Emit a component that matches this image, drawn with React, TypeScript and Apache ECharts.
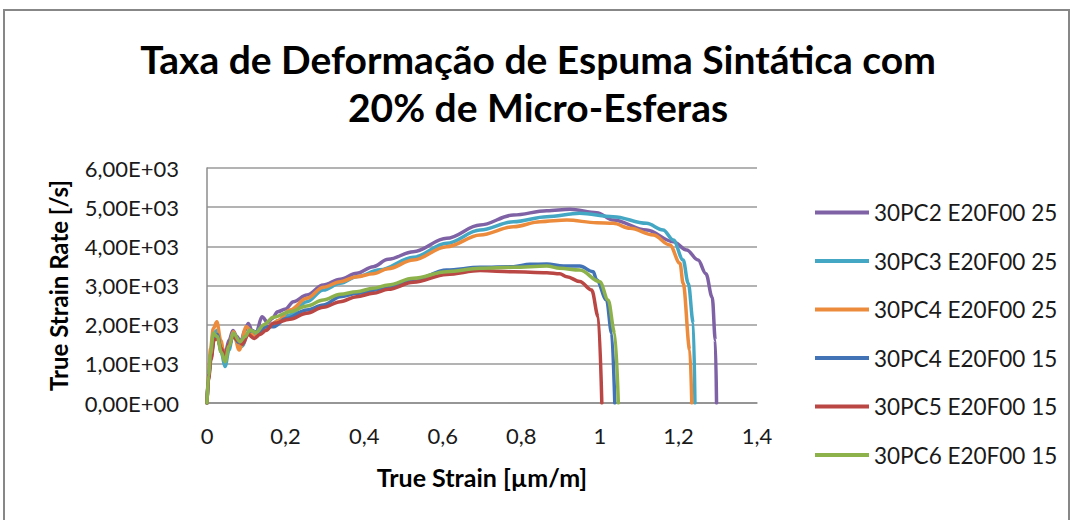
import React, { useEffect, useRef } from "react";
import * as echarts from "echarts";

// ---- Data ----
const seriesNames = [
  "30PC2 E20F00 25",
  "30PC3 E20F00 25",
  "30PC4 E20F00 25",
  "30PC4 E20F00 15",
  "30PC5 E20F00 15",
  "30PC6 E20F00 15",
];

const pc2_25_x = [0, 0.004, 0.01, 0.018, 0.026, 0.036, 0.046, 0.056, 0.066, 0.076, 0.086, 0.096, 0.105, 0.115, 0.125, 0.14, 0.155, 0.165, 0.18, 0.2, 0.22, 0.254, 0.296, 0.339, 0.381, 0.423, 0.461, 0.525, 0.61, 0.695, 0.78, 0.865, 0.924, 0.992, 1.034, 1.119, 1.187, 1.221, 1.25, 1.27, 1.286, 1.294, 1.297];
const pc2_25_y = [0, 700, 1200, 1650, 1750, 1450, 1250, 1600, 1850, 1700, 1550, 1850, 2030, 1850, 1800, 2200, 2050, 2150, 2330, 2400, 2586, 2757, 3013, 3158, 3311, 3480, 3668, 3863, 4205, 4544, 4800, 4910, 4945, 4859, 4672, 4417, 4118, 3906, 3650, 3300, 2700, 1600, 0];

const pc3_25_x = [0, 0.004, 0.01, 0.018, 0.026, 0.036, 0.046, 0.056, 0.066, 0.078, 0.09, 0.105, 0.12, 0.14, 0.16, 0.18, 0.211, 0.254, 0.296, 0.339, 0.381, 0.44, 0.525, 0.61, 0.695, 0.78, 0.865, 0.949, 1.034, 1.119, 1.161, 1.187, 1.212, 1.225, 1.238, 1.242];
const pc3_25_y = [0, 750, 1300, 1800, 1850, 1300, 930, 1350, 1750, 1550, 1450, 1800, 1750, 1950, 1950, 2100, 2250, 2586, 2885, 3056, 3225, 3400, 3720, 4077, 4417, 4629, 4757, 4843, 4757, 4587, 4417, 4161, 3651, 3056, 2035, 0];

const pc4_25_x = [0, 0.004, 0.009, 0.016, 0.025, 0.035, 0.046, 0.056, 0.067, 0.082, 0.1, 0.122, 0.14, 0.16, 0.18, 0.211, 0.254, 0.296, 0.339, 0.381, 0.423, 0.461, 0.525, 0.61, 0.695, 0.78, 0.848, 0.916, 0.992, 1.034, 1.077, 1.136, 1.178, 1.204, 1.212, 1.229, 1.234];
const pc4_25_y = [0, 800, 1400, 1900, 2075, 1600, 1080, 1450, 1820, 1353, 1950, 1690, 1900, 1950, 2100, 2374, 2672, 2953, 3098, 3225, 3300, 3430, 3651, 3991, 4289, 4501, 4629, 4672, 4603, 4587, 4459, 4289, 4034, 3566, 3056, 1353, 0];

const pc4_15_x = [0, 0.004, 0.01, 0.018, 0.026, 0.036, 0.046, 0.056, 0.067, 0.08, 0.095, 0.11, 0.13, 0.15, 0.17, 0.2, 0.254, 0.296, 0.339, 0.381, 0.44, 0.525, 0.61, 0.695, 0.78, 0.822, 0.865, 0.907, 0.949, 0.983, 0.992, 1.017, 1.03, 1.038];
const pc4_15_y = [0, 650, 1150, 1650, 1750, 1350, 1100, 1450, 1750, 1550, 1650, 1850, 1800, 1950, 1950, 2150, 2374, 2502, 2714, 2800, 2900, 3140, 3395, 3464, 3480, 3540, 3549, 3498, 3498, 3352, 3140, 2630, 1779, 0];

const pc5_15_x = [0, 0.004, 0.01, 0.018, 0.026, 0.036, 0.046, 0.056, 0.066, 0.078, 0.09, 0.105, 0.12, 0.135, 0.15, 0.169, 0.211, 0.254, 0.296, 0.339, 0.381, 0.423, 0.461, 0.525, 0.61, 0.695, 0.78, 0.865, 0.898, 0.916, 0.949, 0.979, 0.996, 1.005];
const pc5_15_y = [0, 600, 1100, 1600, 1650, 1400, 1200, 1500, 1700, 1600, 1500, 1750, 1650, 1750, 1850, 2035, 2137, 2290, 2443, 2586, 2714, 2800, 2902, 3080, 3280, 3380, 3352, 3327, 3300, 3225, 3100, 2885, 2203, 0];

const pc6_15_x = [0, 0.004, 0.009, 0.016, 0.026, 0.036, 0.046, 0.056, 0.067, 0.084, 0.097, 0.109, 0.125, 0.145, 0.169, 0.211, 0.254, 0.296, 0.339, 0.381, 0.423, 0.461, 0.525, 0.61, 0.695, 0.78, 0.865, 0.898, 0.949, 1.0, 1.021, 1.038, 1.047];
const pc6_15_y = [0, 700, 1250, 1779, 1700, 1300, 1055, 1450, 1779, 1565, 1700, 1864, 1800, 2000, 2188, 2330, 2476, 2630, 2775, 2842, 2928, 3013, 3183, 3352, 3439, 3464, 3498, 3439, 3396, 3097, 2630, 1779, 0];

const seriesX = [pc2_25_x, pc3_25_x, pc4_25_x, pc4_15_x, pc5_15_x, pc6_15_x];
const seriesY = [pc2_25_y, pc3_25_y, pc4_25_y, pc4_15_y, pc5_15_y, pc6_15_y];
const seriesColors = ["#7E62A5", "#44A7C4", "#EC8B3C", "#4173B6", "#BA4744", "#8DB24C"];

const titleText = "Taxa de Deformação de Espuma Sintática com\n20% de Micro-Esferas";
const xAxisName = "True Strain [µm/m]";
const yAxisName = "True Strain Rate [/s]";

const FONT = "Lato, 'Open Sans', sans-serif";

function fmtY(v: number): string {
  if (v === 0) return "0,00E+00";
  const s = v.toExponential(2);
  const [m, e] = s.split("e");
  const sign = e[0] === "-" ? "-" : "+";
  const ex = Math.abs(parseInt(e, 10)).toString().padStart(2, "0");
  return m.replace(".", ",") + "E" + sign + ex;
}

function fmtX(v: number): string {
  const r = Math.round(v * 10) / 10;
  return String(r).replace(".", ",");
}

export default function App() {
  const ref = useRef<HTMLDivElement>(null);
  useEffect(() => {
    document.body.style.margin = "0";
    if (!ref.current) return;
    const chart = echarts.init(ref.current, undefined, { renderer: "svg" });
    const series = seriesNames.map((name, i) => ({
      name,
      type: "line",
      data: seriesX[i].map((x, j) => [x, seriesY[i][j]]),
      showSymbol: false,
      symbol: "none",
      smooth: 0.35,
      smoothMonotone: "x",
      lineStyle: { width: 3.5, color: seriesColors[i], cap: "round", join: "round" },
      itemStyle: { color: seriesColors[i] },
      emphasis: { disabled: true },
    }));
    chart.setOption({
      animation: false,
      backgroundColor: "#ffffff",
      textStyle: { fontFamily: FONT },
      title: {
        text: titleText,
        left: "center",
        top: 30,
        textStyle: {
          fontFamily: FONT,
          fontSize: 39,
          fontWeight: "bold",
          color: "#000000",
          lineHeight: 48,
        },
      },
      graphic: [
        {
          type: "rect",
          shape: { x: 4, y: 10, width: 1065, height: 530 },
          style: { fill: "none", stroke: "#878787", lineWidth: 2 },
          silent: true,
          z: -1,
        },
      ],
      legend: {
        orient: "vertical",
        left: 810,
        top: 196,
        itemWidth: 54,
        itemHeight: 4,
        itemGap: 25.5,
        icon: "rect",
        textStyle: { fontFamily: FONT, fontSize: 22.5, color: "#1a1a1a", lineHeight: 22 },
        data: seriesNames,
      },
      grid: { left: 207, right: 319, top: 168, bottom: 117, containLabel: false },
      xAxis: {
        type: "value",
        min: 0,
        max: 1.4,
        interval: 0.2,
        name: xAxisName,
        nameLocation: "middle",
        nameGap: 61,
        nameTextStyle: { fontFamily: FONT, fontSize: 25, fontWeight: "bold", color: "#000" },
        axisLine: { show: true, lineStyle: { color: "#8c8c8c", width: 1.5 } },
        axisTick: { show: false },
        splitLine: { show: false },
        axisLabel: { formatter: fmtX, fontFamily: FONT, fontSize: 22, color: "#1a1a1a", margin: 21 },
      },
      yAxis: {
        type: "value",
        min: 0,
        max: 6000,
        interval: 1000,
        name: yAxisName,
        nameLocation: "middle",
        nameRotate: 90,
        nameGap: 137,
        nameTextStyle: { fontFamily: FONT, fontSize: 24, fontWeight: "bold", color: "#000" },
        axisLine: { show: true, lineStyle: { color: "#8c8c8c", width: 1.5 } },
        axisTick: { show: false },
        splitLine: { show: true, lineStyle: { color: "#9a9a9a", width: 1.5 } },
        axisLabel: { formatter: fmtY, fontFamily: FONT, fontSize: 22, color: "#1a1a1a", margin: 28 },
      },
      series,
    });
    return () => chart.dispose();
  }, []);
  return <div ref={ref} style={{ width: 1076, height: 520 }} />;
}
